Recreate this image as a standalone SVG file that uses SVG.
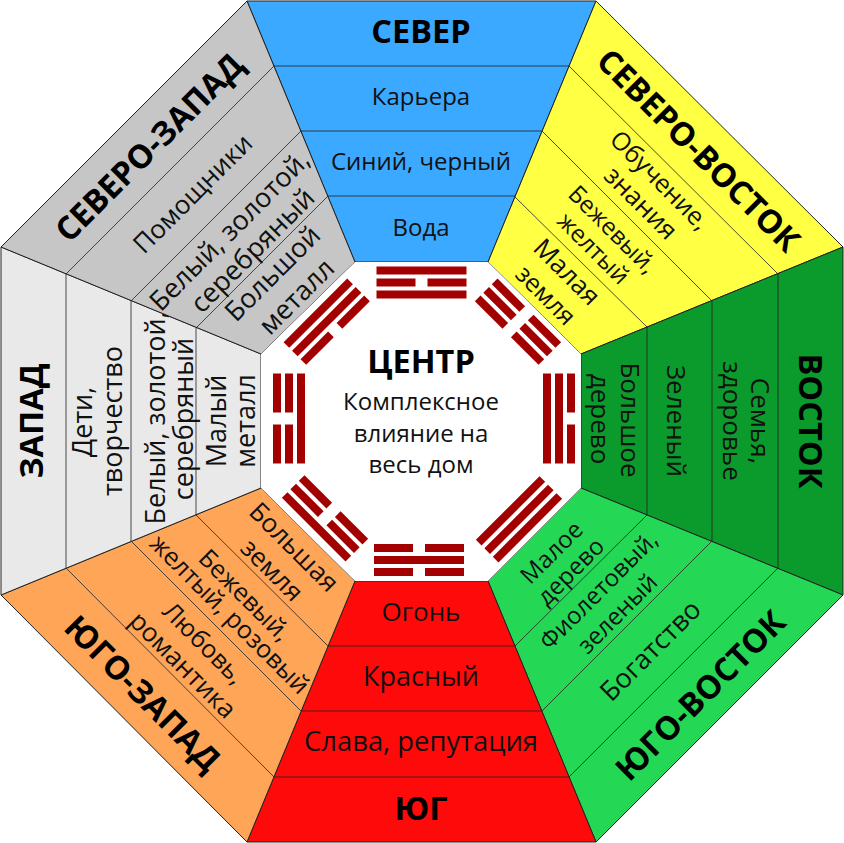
<svg xmlns="http://www.w3.org/2000/svg" width="844" height="843" viewBox="0 0 844 843">
<style>
.s{stroke:#222;stroke-width:1;stroke-linejoin:round}
.d{stroke:#222;stroke-width:1;fill:none;stroke-opacity:.8}
text{font-family:"Open Sans","Noto Sans",sans-serif;text-anchor:middle;fill:#111}
.b{font-weight:bold;font-size:32.5px;fill:#000}
.r{font-size:24px}
.m{font-size:25px}
.l{font-size:26px}
.x{font-size:27px}
.bar{fill:#a30000}
</style>
<defs>
<g id="ss"><rect class="bar" x="-45" y="-4" width="90" height="8"/></g>
<g id="bb"><rect class="bar" x="-45" y="-4" width="39" height="8"/><rect class="bar" x="6" y="-4" width="39" height="8"/></g>
</defs>
<rect width="844" height="843" fill="#fff"/>
<g id="north">
<polygon class="s" fill="#3ba9ff" points="247,1 596,1 488,262 355,262"/>
<path class="d" d="M274,66H569M301,131H542M328,196H515"/>
<text class="b" x="421" y="43">СЕВЕР</text>
<text class="r" x="421" y="105">Карьера</text>
<text class="r" x="421" y="170">Синий, черный</text>
<text class="r" x="421" y="236">Вода</text>
</g>
<g id="northeast">
<polygon class="s" fill="#ffff44" points="596,1 843,247 581,354 488,262"/>
<path class="d" d="M569,66L778,274M542,131L712,301M515,197L647,327"/>
<text class="b" transform="translate(699 150) rotate(45)" y="12">СЕВЕРО-ВОСТОК</text>
<text class="m" transform="translate(660 180) rotate(45)" y="9">Обучение,</text>
<text class="l" transform="translate(641 203) rotate(45)" y="9">знания</text>
<text class="r" transform="translate(613 229) rotate(45)" y="9">Бежевый,</text>
<text class="r" transform="translate(594 248) rotate(45)" y="9">желтый</text>
<text class="l" transform="translate(567 272) rotate(45)" y="9">Малая</text>
<text class="m" transform="translate(546 295) rotate(45)" y="9">земля</text>
</g>
<g id="east">
<polygon class="s" fill="#0b9a2c" points="843,247 843,595 581,488 581,354"/>
<path class="d" d="M778,274V568M712,301V541M647,327V515"/>
<text class="b" transform="translate(799 421) rotate(90)">ВОСТОК</text>
<text class="l" transform="translate(751 421) rotate(90)">Семья,</text>
<text class="l" transform="translate(723 421) rotate(90)">здоровье</text>
<text class="l" transform="translate(667 421) rotate(90)">Зеленый</text>
<text class="l" transform="translate(621 420) rotate(90)">Большое</text>
<text class="l" transform="translate(591 419) rotate(90)">дерево</text>
</g>
<g id="southeast">
<polygon class="s" fill="#24d856" points="843,595 596,842 488,581 581,488"/>
<path class="d" d="M778,568L569,777M712,541L542,711M647,515L515,646"/>
<text class="b" transform="translate(700 695) rotate(-45)" y="12">ЮГО-ВОСТОК</text>
<text class="x" transform="translate(650 650) rotate(-45)" y="10">Богатство</text>
<text class="r" transform="translate(598 590) rotate(-45)" y="9">Фиолетовый,</text>
<text class="r" transform="translate(617 613) rotate(-45)" y="9">зеленый</text>
<text class="r" transform="translate(551 552) rotate(-45)" y="9">Малое</text>
<text class="r" transform="translate(570 571) rotate(-45)" y="9">дерево</text>
</g>
<g id="south">
<polygon class="s" fill="#ff0a0a" points="488,581 596,842 247,842 355,581"/>
<path class="d" d="M328,646H515M301,711H542M274,777H569"/>
<text class="b" x="421" y="820">ЮГ</text>
<text class="l" x="421" y="621">Огонь</text>
<text class="x" x="421" y="686">Красный</text>
<text class="x" x="421" y="751" style="font-size:27.4px">Слава, репутация</text>
</g>
<g id="southwest">
<polygon class="s" fill="#ffa557" points="1,595 261,488 355,581 247,842"/>
<path class="d" d="M66,568L274,777M131,541L301,711M196,515L328,646"/>
<text class="b" transform="translate(143 693) rotate(45)" y="12">ЮГО-ЗАПАД</text>
<text class="m" transform="translate(204 643) rotate(45)" y="9">Любовь,</text>
<text class="l" transform="translate(183 665) rotate(45)" y="9">романтика</text>
<text class="m" transform="translate(245 595) rotate(45)" y="9">Бежевый,</text>
<text class="m" transform="translate(230 614) rotate(45)" y="9">желтый, розовый</text>
<text class="l" transform="translate(294 547) rotate(45)" y="9">Большая</text>
<text class="l" transform="translate(272 570) rotate(45)" y="9">земля</text>
</g>
<g id="west">
<polygon class="s" fill="#e9e9e9" points="1,247 261,354 261,488 1,595"/>
<path class="d" d="M66,274V568M131,301V541M196,328V515"/>
<text class="b" transform="translate(43 421) rotate(-90)">ЗАПАД</text>
<text class="x" transform="translate(92 422) rotate(-90)">Дети,</text>
<text class="x" transform="translate(122 421) rotate(-90)">творчество</text>
<text class="x" transform="translate(165 418) rotate(-90)">Белый, золотой,</text>
<text class="x" transform="translate(193 419) rotate(-90)">серебряный</text>
<text class="x" transform="translate(226 421) rotate(-90)">Малый</text>
<text class="x" transform="translate(255 421) rotate(-90)">металл</text>
</g>
<g id="northwest">
<polygon class="s" fill="#c6c6c6" points="247,1 355,262 261,354 1,247"/>
<path class="d" d="M274,66L66,274M301,131L131,301M328,196L196,328"/>
<text class="b" transform="translate(149 147) rotate(-45)" y="12">СЕВЕРО-ЗАПАД</text>
<text class="l" transform="translate(192 193) rotate(-45)" y="10">Помощники</text>
<text class="x" transform="translate(229 230) rotate(-45)" y="10">Белый, золотой,</text>
<text class="x" transform="translate(252 250) rotate(-45)" y="10">серебряный</text>
<text class="x" transform="translate(272 273) rotate(-45)" y="10">Большой</text>
<text class="x" transform="translate(296 296) rotate(-45)" y="10">металл</text>
</g>
<g id="center">
<polygon fill="#fff" points="355,262 488,262 581,354 581,488 488,581 355,581 261,488 261,354"/>
<text class="b" x="421" y="373">ЦЕНТР</text>
<text class="r" x="421" y="410">Комплексное</text>
<text class="r" x="421" y="442">влияние на</text>
<text class="r" x="421" y="473">весь дом</text>
</g>
<g id="trigram-n" transform="translate(421.5 282.5)"><use href="#ss" y="-12"/><use href="#bb"/><use href="#ss" y="12"/></g>
<g id="trigram-s" transform="translate(419 560)"><use href="#bb" y="-12"/><use href="#ss"/><use href="#bb" y="12"/></g>
<g id="trigram-w" transform="translate(289 418.5) rotate(-90)"><use href="#bb" y="-12"/><use href="#bb"/><use href="#ss" y="12"/></g>
<g id="trigram-e" transform="translate(559 418.5) rotate(90)"><use href="#bb" y="-12"/><use href="#ss"/><use href="#ss" y="12"/></g>
<g id="trigram-nw" transform="translate(326.7 321.7) rotate(-45)"><use href="#ss" y="-12"/><use href="#ss"/><use href="#bb" y="12"/></g>
<g id="trigram-ne" transform="translate(518 321.7) rotate(45)"><use href="#bb" y="-12"/><use href="#bb"/><use href="#bb" y="12"/></g>
<g id="trigram-se" transform="translate(519 519.3) rotate(-45)"><use href="#ss" y="-12"/><use href="#ss"/><use href="#ss" y="12"/></g>
<g id="trigram-sw" transform="translate(325 518.3) rotate(45)"><use href="#bb" y="-12"/><use href="#bb"/><use href="#ss" y="12"/></g>
</svg>
